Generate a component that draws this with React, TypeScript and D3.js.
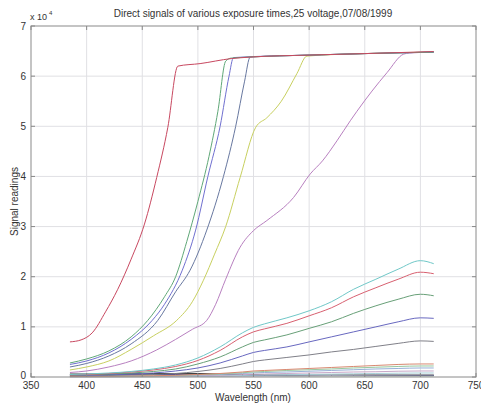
import React from "react";
import * as d3 from "d3";

// ---- data (values in units of 1e4) ----
const WL = [385, 400, 420, 440, 460, 480, 500, 520, 540, 550, 560, 580, 600, 620, 640, 660, 680, 700, 712];

const lowCyan = [0.05, 0.06, 0.08, 0.11, 0.16, 0.24, 0.38, 0.6, 0.88, 0.99, 1.06, 1.18, 1.32, 1.5, 1.75, 1.95, 2.15, 2.32, 2.26];
const lowRed = [0.04, 0.05, 0.07, 0.1, 0.14, 0.21, 0.33, 0.53, 0.8, 0.9, 0.96, 1.07, 1.22, 1.38, 1.6, 1.78, 1.95, 2.09, 2.06];
const lowGreen = [0.035, 0.045, 0.06, 0.08, 0.11, 0.16, 0.26, 0.4, 0.6, 0.69, 0.74, 0.84, 0.97, 1.1, 1.27, 1.42, 1.55, 1.65, 1.62];
const lowBlue = [0.03, 0.035, 0.045, 0.06, 0.08, 0.12, 0.18, 0.28, 0.42, 0.49, 0.53, 0.6, 0.7, 0.8, 0.9, 1.0, 1.1, 1.18, 1.17];
const lowGrey = [0.02, 0.025, 0.03, 0.04, 0.05, 0.07, 0.11, 0.17, 0.26, 0.31, 0.34, 0.39, 0.44, 0.5, 0.55, 0.61, 0.67, 0.72, 0.71];
const small1 = [0.01, 0.012, 0.015, 0.02, 0.025, 0.035, 0.05, 0.07, 0.1, 0.12, 0.13, 0.15, 0.17, 0.19, 0.21, 0.23, 0.25, 0.26, 0.26];
const small2 = [0.01, 0.01, 0.013, 0.017, 0.02, 0.03, 0.045, 0.06, 0.085, 0.1, 0.11, 0.13, 0.145, 0.16, 0.18, 0.195, 0.21, 0.22, 0.22];
const small3 = [0.008, 0.009, 0.011, 0.014, 0.018, 0.025, 0.035, 0.05, 0.07, 0.08, 0.09, 0.1, 0.115, 0.13, 0.145, 0.16, 0.17, 0.18, 0.18];
const small4 = [0.006, 0.007, 0.008, 0.01, 0.013, 0.018, 0.025, 0.035, 0.048, 0.055, 0.06, 0.07, 0.08, 0.09, 0.1, 0.105, 0.115, 0.12, 0.12];
const small5 = [0.005, 0.005, 0.006, 0.007, 0.009, 0.012, 0.017, 0.024, 0.033, 0.037, 0.04, 0.046, 0.052, 0.058, 0.064, 0.07, 0.076, 0.08, 0.08];
const small6 = [0.004, 0.004, 0.004, 0.005, 0.006, 0.008, 0.01, 0.013, 0.017, 0.019, 0.021, 0.024, 0.027, 0.03, 0.033, 0.036, 0.038, 0.04, 0.04];
const darkK = [0.06, 0.06, 0.06, 0.065, 0.07, 0.07, 0.07, 0.06, 0.05, 0.05, 0.04, 0.04, 0.04, 0.04, 0.04, 0.04, 0.04, 0.04, 0.04];
const darkB = [0.04, 0.04, 0.045, 0.05, 0.05, 0.05, 0.05, 0.045, 0.035, 0.03, 0.03, 0.03, 0.03, 0.03, 0.03, 0.03, 0.03, 0.03, 0.03];
const darkG = [0.05, 0.05, 0.05, 0.055, 0.06, 0.06, 0.055, 0.05, 0.04, 0.035, 0.03, 0.025, 0.025, 0.025, 0.025, 0.025, 0.025, 0.025, 0.025];

// saturating curves: own wavelength / value lists
const satPurpleW = [385, 400, 420, 440, 463, 480, 495, 508, 516, 525, 538, 550, 562, 586, 601, 612, 625, 637, 643, 670, 685, 690, 712];
const satPurpleV = [0.09, 0.12, 0.2, 0.32, 0.54, 0.75, 0.95, 1.13, 1.45, 1.95, 2.59, 2.92, 3.12, 3.58, 4.05, 4.31, 4.71, 5.11, 5.3, 6.07, 6.44, 6.46, 6.48];
const satYellowW = [385, 400, 420, 440, 460, 481, 495, 505, 515, 525, 538, 552, 562, 575, 589, 598, 650, 712];
const satYellowV = [0.14, 0.2, 0.32, 0.55, 0.82, 1.13, 1.5, 1.93, 2.45, 3.0, 3.98, 4.98, 5.17, 5.5, 6.05, 6.4, 6.45, 6.48];
const satGreyW = [385, 400, 420, 440, 464, 480, 493, 508, 523, 534, 542, 547, 600, 650, 712];
const satGreyV = [0.2, 0.27, 0.42, 0.66, 1.13, 1.7, 2.13, 2.93, 4.0, 5.0, 5.9, 6.38, 6.42, 6.45, 6.48];
const satBlueW = [385, 400, 420, 440, 459, 470, 486, 498, 509, 520, 528, 532, 600, 650, 712];
const satBlueV = [0.25, 0.32, 0.48, 0.75, 1.13, 1.45, 2.13, 2.93, 4.0, 5.0, 6.0, 6.37, 6.42, 6.45, 6.48];
const satGreenW = [385, 400, 420, 440, 455, 470, 480, 490, 500, 510, 518, 525, 530, 600, 650, 712];
const satGreenV = [0.28, 0.36, 0.52, 0.8, 1.13, 1.6, 2.0, 2.7, 3.5, 4.4, 5.3, 6.3, 6.36, 6.42, 6.45, 6.48];
const satRedW = [385, 395, 405, 417, 428, 440, 452, 463, 473, 482, 502, 530, 547, 600, 650, 712];
const satRedV = [0.7, 0.74, 0.88, 1.3, 1.75, 2.35, 3.05, 3.98, 4.98, 6.2, 6.25, 6.35, 6.38, 6.42, 6.45, 6.49];

const xTicks = [350, 400, 450, 500, 550, 600, 650, 700, 750];
const yTicks = [0, 1, 2, 3, 4, 5, 6, 7];

const TITLE = "Direct signals of various exposure times,25 voltage,07/08/1999";

export default function App() {
  const W = 481, H = 404;
  const L = 31, R = 476, T = 26, B = 377;
  const x = d3.scaleLinear().domain([350, 750]).range([L, R]);
  const y = d3.scaleLinear().domain([0, 7]).range([B, T]);
  const line = d3
    .line<[number, number]>()
    .x((d) => x(d[0]))
    .y((d) => y(d[1]))
    .curve(d3.curveMonotoneX);

  const zipGrid = (v: number[]) => WL.map((w, i) => [w, v[i]] as [number, number]);
  const zip = (w: number[], v: number[]) => w.map((ww, i) => [ww, v[i]] as [number, number]);

  const series: { pts: [number, number][]; color: string }[] = [
    { pts: zipGrid(darkG), color: "#3a6a40" },
    { pts: zipGrid(darkB), color: "#404090" },
    { pts: zipGrid(darkK), color: "#404040" },
    { pts: zipGrid(small6), color: "#a8a8b8" },
    { pts: zipGrid(small5), color: "#a8d0d8" },
    { pts: zipGrid(small4), color: "#c8a8c8" },
    { pts: zipGrid(small3), color: "#98b0d8" },
    { pts: zipGrid(small2), color: "#98c8a0" },
    { pts: zipGrid(small1), color: "#d88870" },
    { pts: zipGrid(lowGrey), color: "#808088" },
    { pts: zipGrid(lowBlue), color: "#6868c0" },
    { pts: zipGrid(lowGreen), color: "#68a078" },
    { pts: zipGrid(lowRed), color: "#d86070" },
    { pts: zipGrid(lowCyan), color: "#70c8c8" },
    { pts: zip(satPurpleW, satPurpleV), color: "#b880c0" },
    { pts: zip(satYellowW, satYellowV), color: "#c8d060" },
    { pts: zip(satGreyW, satGreyV), color: "#6878a0" },
    { pts: zip(satBlueW, satBlueV), color: "#7070d0" },
    { pts: zip(satGreenW, satGreenV), color: "#60a878" },
    { pts: zip(satRedW, satRedV), color: "#c84860" },
  ];

  const font = "'Liberation Sans', Arial, sans-serif";
  const tc = "#333";

  return (
    <svg
      width={W}
      height={H}
      style={{ position: "absolute", left: 0, top: 0, background: "#fff" }}
      fontFamily={font}
    >
      <rect x={0} y={0} width={W} height={H} fill="#fff" />
      {/* grid */}
      {xTicks.slice(1, -1).map((t) => (
        <line key={"gx" + t} x1={x(t)} x2={x(t)} y1={T} y2={B} stroke="#e0e0e4" strokeWidth={1} />
      ))}
      {yTicks.slice(1, -1).map((t) => (
        <line key={"gy" + t} x1={L} x2={R} y1={y(t)} y2={y(t)} stroke="#e0e0e4" strokeWidth={1} />
      ))}
      {/* curves */}
      {series.map((s, i) => (
        <path key={i} d={line(s.pts) || ""} fill="none" stroke={s.color} strokeWidth={1} />
      ))}
      {/* box */}
      <rect x={L} y={T} width={R - L} height={B - T} fill="none" stroke="#8a8a8a" strokeWidth={1} />
      {/* ticks */}
      {xTicks.map((t) => (
        <g key={"tx" + t}>
          <line x1={x(t)} x2={x(t)} y1={B} y2={B - 4} stroke="#888" />
          <line x1={x(t)} x2={x(t)} y1={T} y2={T + 4} stroke="#888" />
          <text x={x(t)} y={389} fontSize={10} textAnchor="middle" fill={tc}>
            {t}
          </text>
        </g>
      ))}
      {yTicks.map((t) => (
        <g key={"ty" + t}>
          <line x1={L} x2={L + 4} y1={y(t)} y2={y(t)} stroke="#888" />
          <line x1={R} x2={R - 4} y1={y(t)} y2={y(t)} stroke="#888" />
          <text x={26} y={t === 0 ? y(t) + 2 : y(t) + 3.5} fontSize={10} textAnchor="end" fill={tc}>
            {t}
          </text>
        </g>
      ))}
      {/* exponent */}
      <text x={30} y={20} fontSize={9} fill={tc}>
        x 10
      </text>
      <text x={49} y={15} fontSize={6} fill={tc}>
        4
      </text>
      {/* title & labels */}
      <text x={253} y={17} fontSize={10} textAnchor="middle" fill={tc}>
        {TITLE}
      </text>
      <text x={253} y={401} fontSize={10} textAnchor="middle" fill={tc}>
        Wavelength (nm)
      </text>
      <text
        transform={`translate(18, ${(T + B) / 2}) rotate(-90)`}
        fontSize={10}
        textAnchor="middle"
        fill={tc}
      >
        Signal readings
      </text>
    </svg>
  );
}
